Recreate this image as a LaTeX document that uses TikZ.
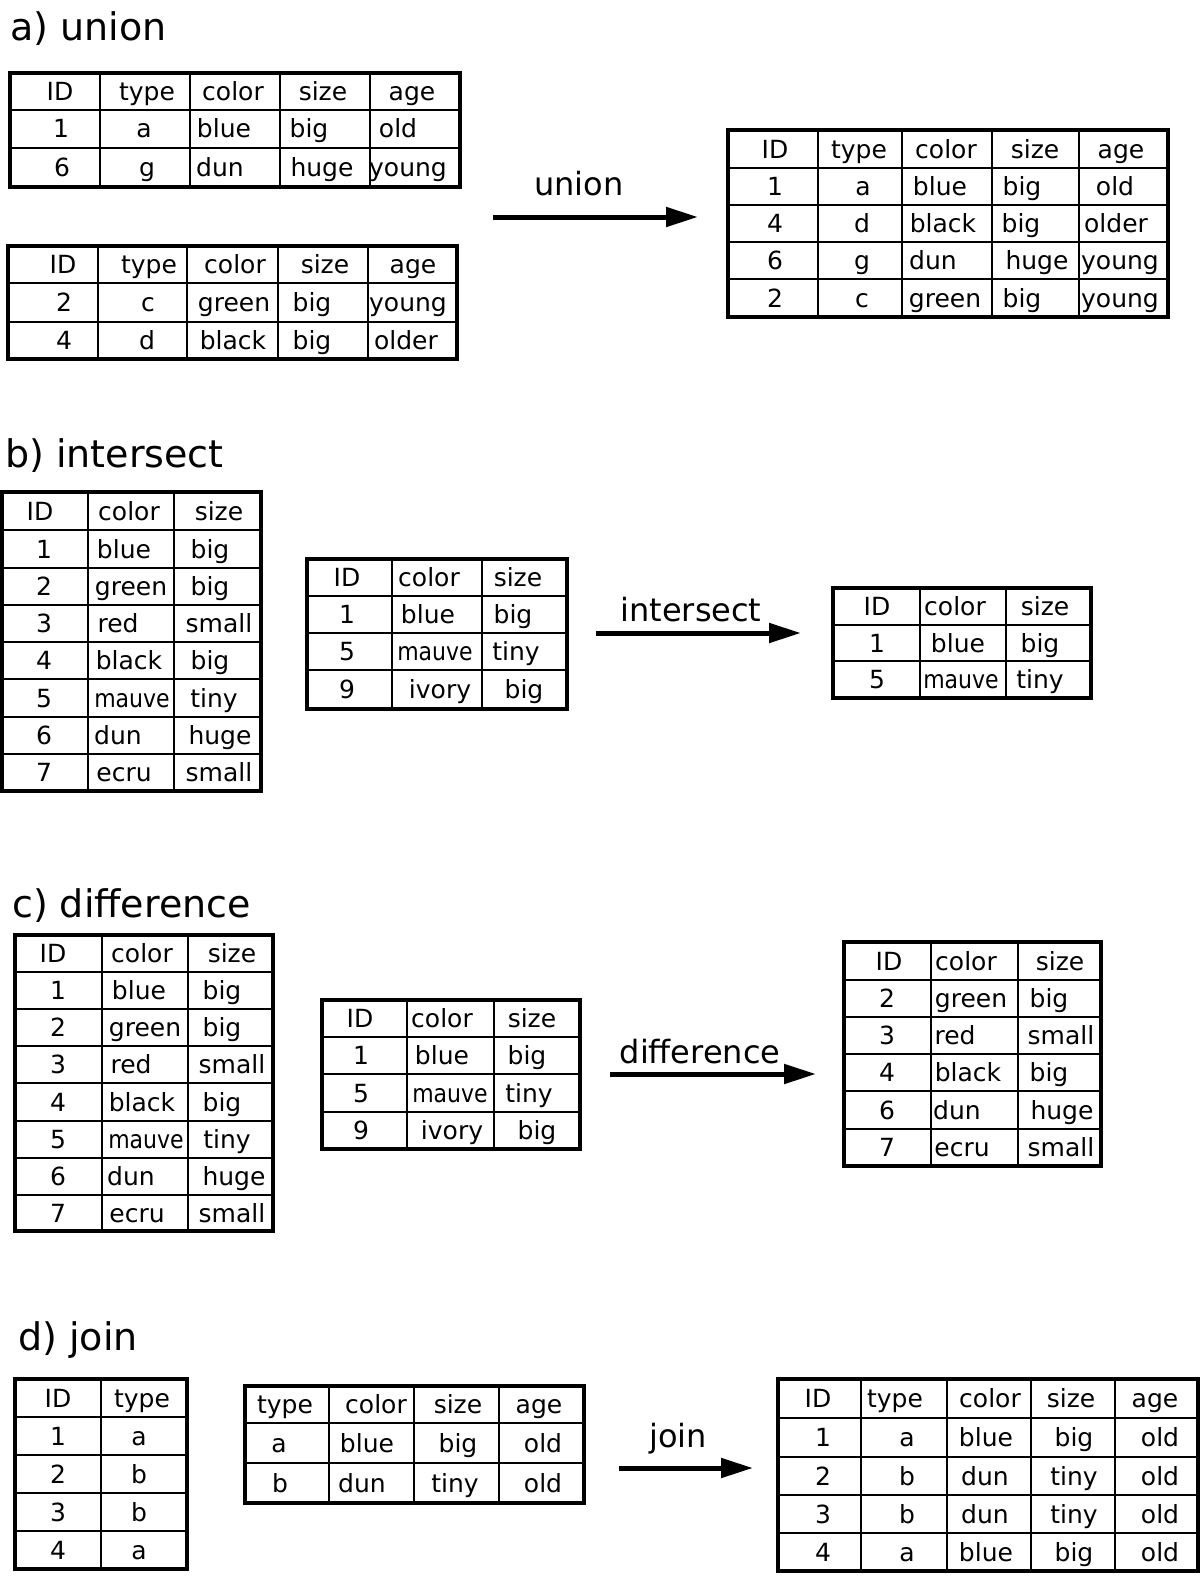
\documentclass[tikz,border=0pt]{standalone}
\usepackage{fontspec}
\setmainfont{DejaVu Sans}
\usetikzlibrary{arrows.meta}
\newcounter{cc}
\newcommand\cell[3]{\stepcounter{cc}\node[cell] (c\thecc) at (#1,#2) {#3};}
\newcommand\trow[2]{\foreach \px/\tx in {#2}{\cell{\px}{#1}{\tx}}}
\newcommand\tgrid[6]{%
  \draw[inner] \foreach \gx in {#5} {(\gx,#2)--(\gx,#4)} \foreach \gy in {#6} {(#1,\gy)--(#3,\gy)};
  \draw[outer] (#1,#2) rectangle (#3,#4);}
\newcommand\mauve{\scalebox{0.88}[1]{mauve}}
\begin{document}
\begin{tikzpicture}[x=1pt,y=-1pt,
  cell/.style={inner sep=0pt,text height=18pt,text depth=0pt,font=\fontsize{25}{30}\selectfont},
  inner/.style={line width=2.6pt},
  outer/.style={line width=3.2pt,line join=miter},
  title/.style={anchor=base west,inner sep=0pt,font=\fontsize{38}{44}\selectfont},
  oplabel/.style={anchor=base,inner sep=0pt,font=\fontsize{32}{38}\selectfont},
  oparrow/.style={line width=5pt,-{Triangle[length=32pt,width=19pt]}}]
\useasboundingbox (0,0) rectangle (1200,1576);
\fill[white] (0,0) rectangle (1200,1576);

% ---------- a) union
\node[title] (ta) at (10,41) {a) union};
\tgrid{10}{73}{460}{187}{100,190,280,370}{110,148}
\trow{91.5}{60/ID,147/type,233/color,323/size,412/age}
\trow{129}{61/1,144/a,224/blue,309/big,398/old}
\trow{167.5}{62/6,147/g,220/dun,322/huge,408/young}

\tgrid{8}{246}{457}{359}{98,187,278,368}{283,322}
\trow{264.5}{63/ID,149/type,235/color,325/size,413/age}
\trow{302.5}{64/2,148/c,234/green,312/big,408/young}
\trow{340.5}{64/4,147/d,233/black,312/big,406/older}

\tgrid{728}{130}{1168}{317}{818,902,992,1079}{168,205,242,279}
\trow{149}{775/ID,859/type,946/color,1035/size,1121/age}
\trow{186.5}{775/1,863/a,940/blue,1022/big,1115/old}
\trow{223.5}{775/4,862/d,943/black,1021/big,1116/older}
\trow{260.5}{775/6,862/g,933/dun,1037/huge,1120/young}
\trow{298}{775/2,862/c,945/green,1022/big,1120/young}

\node[oplabel] (lu) at (579,195) {union};
\coordinate (ua) at (493,217);
\coordinate (ub) at (698,217);
\draw[oparrow] (ua) -- (ub);

% ---------- b) intersect
\node[title] (tb) at (5,467) {b) intersect};
\tgrid{2}{492}{261}{791}{88,174}{530,568,605,642,679,717,754}
\trow{511}{40/ID,129/color,219/size}
\trow{549}{44/1,124/blue,210/big}
\trow{586.5}{44/2,131/green,210/big}
\trow{623.5}{44/3,118/red,219/small}
\trow{660.5}{44/4,129/black,210/big}
\trow{698}{44/5,132/\mauve,214/tiny}
\trow{735.5}{44/6,118/dun,220/huge}
\trow{772.5}{44/7,124/ecru,219/small}

\tgrid{307}{559}{567}{709}{392,482}{596,633,670}
\trow{577.5}{347/ID,429/color,518/size}
\trow{614.5}{347/1,428/blue,513/big}
\trow{651.5}{347/5,435/\mauve,516/tiny}
\trow{689.5}{347/9,440/ivory,524/big}

\node[oplabel] (li) at (691,621) {intersect};
\coordinate (ia) at (596,633);
\coordinate (ib) at (801,633);
\draw[oparrow] (ia) -- (ib);

\tgrid{833}{588}{1091}{698}{920,1006}{625,661}
\trow{606.5}{877/ID,955/color,1045/size}
\trow{643}{877/1,958/blue,1040/big}
\trow{679.5}{877/5,961/\mauve,1040/tiny}

% ---------- c) difference
\node[title] (tc) at (12,917) {c) difference};
\tgrid{15}{935}{273}{1231}{102,188}{972,1009,1046,1083,1121,1158,1195}
\trow{953.5}{53/ID,142/color,232/size}
\trow{990.5}{58/1,139/blue,222/big}
\trow{1027.5}{58/2,145/green,222/big}
\trow{1064.5}{58/3,131/red,232/small}
\trow{1102}{58/4,142/black,222/big}
\trow{1139.5}{58/5,146/\mauve,227/tiny}
\trow{1176.5}{58/6,131/dun,234/huge}
\trow{1213}{58/7,137/ecru,232/small}

\tgrid{322}{1000}{580}{1149}{407,494}{1037,1074,1112}
\trow{1018.5}{360/ID,442/color,532/size}
\trow{1055.5}{361/1,442/blue,527/big}
\trow{1093}{361/5,450/\mauve,529/tiny}
\trow{1130.5}{361/9,452/ivory,537/big}

\node[oplabel] (ld) at (700,1063) {difference};
\coordinate (da) at (610,1074);
\coordinate (db) at (816,1074);
\draw[oparrow] (da) -- (db);

\tgrid{844}{942}{1101}{1166}{931,1018}{980,1017,1054,1091,1129}
\trow{961}{889/ID,966/color,1060/size}
\trow{998.5}{887/2,971/green,1049/big}
\trow{1035.5}{887/3,955/red,1061/small}
\trow{1072.5}{887/4,968/black,1049/big}
\trow{1110}{887/6,957/dun,1062/huge}
\trow{1147.5}{887/7,962/ecru,1061/small}

% ---------- d) join
\node[title] (td) at (18,1350) {d) join};
\tgrid{15}{1379}{187}{1569}{101}{1417,1455,1493,1531}
\trow{1398}{58/ID,142/type}
\trow{1436}{58/1,139/a}
\trow{1474}{58/2,139/b}
\trow{1512}{58/3,139/b}
\trow{1550}{58/4,139/a}

\tgrid{245}{1386}{584}{1503}{329,414,499}{1423,1463}
\trow{1404.5}{285/type,376/color,458/size,539/age}
\trow{1443}{279/a,367/blue,458/big,543/old}
\trow{1483}{280/b,362/dun,455/tiny,543/old}

\node[oplabel] (lj) at (678,1447) {join};
\coordinate (ja) at (619,1468);
\coordinate (jb) at (753,1468);
\draw[oparrow] (ja) -- (jb);

\tgrid{778}{1379}{1198}{1571}{861,947,1031,1115}{1418,1457,1495,1533}
\trow{1398.5}{818/ID,895/type,990/color,1071/size,1155/age}
\trow{1437.5}{823/1,907/a,986/blue,1074/big,1160/old}
\trow{1476}{823/2,907/b,985/dun,1074/tiny,1160/old}
\trow{1514}{823/3,907/b,985/dun,1074/tiny,1160/old}
\trow{1552}{823/4,907/a,986/blue,1074/big,1160/old}
\end{tikzpicture}
\end{document}
